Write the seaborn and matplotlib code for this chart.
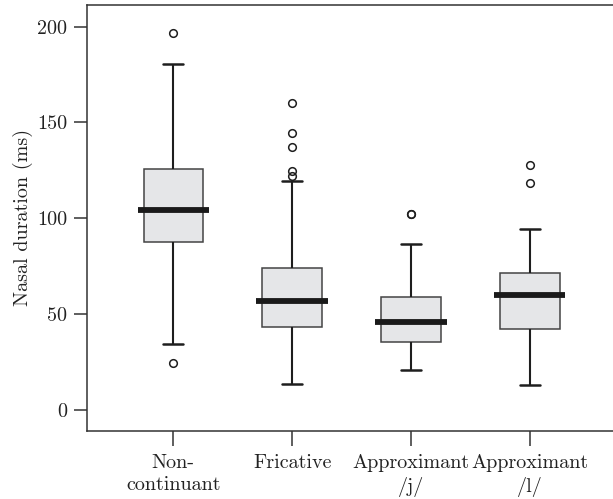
import matplotlib
matplotlib.use("Agg")
import matplotlib.pyplot as plt
import pandas as pd
import seaborn as sns

# categories, in plotting order
categories = ["Non-\ncontinuant", "Fricative", "Approximant\n/j/", "Approximant\n/l/"]

# nasal durations (ms) per context
non_continuant = [24.4, 34.4, 62, 87.5, 93, 99, 104.4, 110, 118, 125.7, 150, 180.7, 196.6]
fricative = [13.4, 22, 28, 33, 36, 39, 41, 43.1, 45, 47, 50, 52, 54, 56, 57.0,
             59, 62, 65, 68, 70, 72, 73.9, 96, 119.7, 122.1, 124.9, 137.1, 144.4, 160.4]
approx_j = [20.7, 28, 32, 35.3, 39, 43, 45.8, 50, 55, 59.1, 86.4, 102.3, 102.3]
approx_l = [13.0, 25, 35, 42.3, 50, 56, 60.0, 64, 68, 71.3, 94.4, 118.6, 127.8]

yticks = [0, 50, 100, 150, 200]

df = pd.concat([
    pd.DataFrame({"context": categories[0], "duration": non_continuant}),
    pd.DataFrame({"context": categories[1], "duration": fricative}),
    pd.DataFrame({"context": categories[2], "duration": approx_j}),
    pd.DataFrame({"context": categories[3], "duration": approx_l}),
])

sns.set_style("ticks")
plt.rcParams["font.family"] = ["cmr10", "DejaVu Serif"]
plt.rcParams["axes.formatter.use_mathtext"] = True
plt.rcParams["mathtext.fontset"] = "cm"

fig = plt.figure(figsize=(6.13, 4.99), dpi=100)
ax = fig.add_axes([87.3 / 613, 1 - 430.7 / 499, 1 - 87.3 / 613, (430.7 - 5) / 499])

sns.boxplot(
    data=df, x="context", y="duration", order=categories,
    color="#e5e6e8", saturation=1, width=0.5, whis=1.5,
    fliersize=5.5, ax=ax, capwidths=0.17,
    boxprops={"edgecolor": "#444444", "linewidth": 1.1},
    whiskerprops={"color": "#1e1e1e", "linewidth": 1.5},
    capprops={"color": "#1e1e1e", "linewidth": 1.8},
    medianprops={"color": "#1a1a1a", "linewidth": 4.2, "solid_capstyle": "butt", "gid": "median"},
    flierprops={"marker": "o", "markerfacecolor": "none", "markeredgecolor": "#1e1e1e",
                "markeredgewidth": 1.1},
)

# R draws the median bar a little wider than the box
for ln in ax.lines:
    if ln.get_gid() == "median":
        xs = ln.get_xdata()
        c = (xs[0] + xs[1]) / 2
        ln.set_xdata([c + (x - c) * 1.2 for x in xs])

ax.set_xlim(-0.723, 3.70)
ax.set_ylim(-10.8, 211.3)
ax.set_yticks(yticks)
ax.set_yticklabels([str(v) for v in yticks])
ax.set_xlabel("")
ax.set_ylabel("Nasal duration (ms)", fontsize=14.5, color="#222222")
ax.yaxis.set_label_coords(-0.103, 0.5)

for side in ["left", "bottom", "top"]:
    ax.spines[side].set_color("#333333")
    ax.spines[side].set_linewidth(1.1)
    ax.spines[side].set_visible(True)
ax.spines["right"].set_visible(False)

ax.tick_params(axis="y", length=9.5, width=1.1, color="#333333",
               labelsize=14.5, labelcolor="#222222", pad=5)
ax.tick_params(axis="x", length=11, width=1.1, color="#333333",
               labelsize=14.5, labelcolor="#222222", pad=6)
for lab in ax.get_xticklabels():
    lab.set_linespacing(1.3)

fig.savefig("out.png", dpi=100, facecolor="white")
